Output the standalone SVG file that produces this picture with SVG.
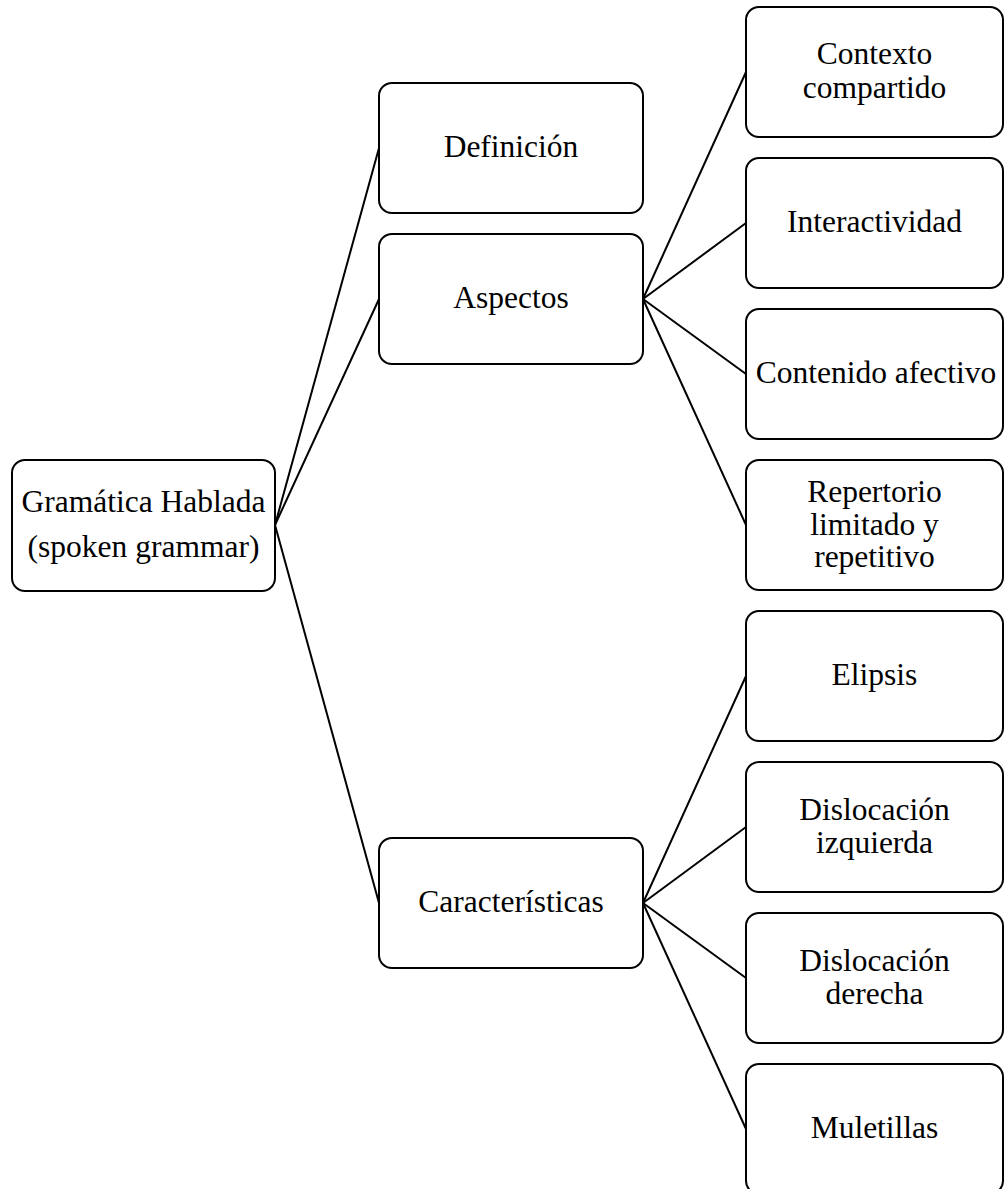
<svg xmlns="http://www.w3.org/2000/svg" width="1004" height="1189" viewBox="0 0 1004 1189">
  <style>
    .box { fill: #ffffff; stroke: #000000; stroke-width: 2; }
    .lbl { font-family: "Liberation Serif", "Times New Roman", serif; font-size: 31.5px; fill: #000000; text-anchor: middle; }
    .edge { stroke: #000000; stroke-width: 2; fill: none; }
  </style>
  <rect width="1004" height="1189" fill="#ffffff"/>

  <!-- tree connectors -->
  <g id="connectors">
    <line class="edge" x1="275" y1="525" x2="379" y2="148"/>
    <line class="edge" x1="275" y1="525" x2="379" y2="299"/>
    <line class="edge" x1="275" y1="525" x2="379" y2="903"/>
    <line class="edge" x1="643" y1="299" x2="746" y2="72"/>
    <line class="edge" x1="643" y1="299" x2="746" y2="223"/>
    <line class="edge" x1="643" y1="299" x2="746" y2="374"/>
    <line class="edge" x1="643" y1="299" x2="746" y2="525"/>
    <line class="edge" x1="643" y1="903" x2="746" y2="676"/>
    <line class="edge" x1="643" y1="903" x2="746" y2="827"/>
    <line class="edge" x1="643" y1="903" x2="746" y2="978"/>
    <line class="edge" x1="643" y1="903" x2="746" y2="1129"/>
  </g>

  <!-- root -->
  <g id="root">
    <rect class="box" x="12" y="460" width="263" height="131" rx="13"/>
    <text class="lbl" x="143.5" y="512">Gramática Hablada</text>
    <text class="lbl" x="143.5" y="557">(spoken grammar)</text>
  </g>

  <!-- middle column -->
  <g id="definicion">
    <rect class="box" x="379" y="83" width="264" height="130" rx="13"/>
    <text class="lbl" x="511" y="157">Definición</text>
  </g>
  <g id="aspectos">
    <rect class="box" x="379" y="234" width="264" height="130" rx="13"/>
    <text class="lbl" x="511" y="308">Aspectos</text>
  </g>
  <g id="caracteristicas">
    <rect class="box" x="379" y="838" width="264" height="130" rx="13"/>
    <text class="lbl" x="511" y="912">Características</text>
  </g>

  <!-- right column: aspects -->
  <g id="contexto">
    <rect class="box" x="746" y="7" width="257" height="130" rx="13"/>
    <text class="lbl" x="874.5" y="64">Contexto</text>
    <text class="lbl" x="874.5" y="98">compartido</text>
  </g>
  <g id="interactividad">
    <rect class="box" x="746" y="158" width="257" height="130" rx="13"/>
    <text class="lbl" x="874.5" y="232">Interactividad</text>
  </g>
  <g id="contenido">
    <rect class="box" x="746" y="309" width="257" height="130" rx="13"/>
    <text class="lbl" x="876" y="383">Contenido afectivo</text>
  </g>
  <g id="repertorio">
    <rect class="box" x="746" y="460" width="257" height="130" rx="13"/>
    <text class="lbl" x="874.5" y="502">Repertorio</text>
    <text class="lbl" x="874.5" y="535">limitado y</text>
    <text class="lbl" x="874.5" y="567">repetitivo</text>
  </g>

  <!-- right column: characteristics -->
  <g id="elipsis">
    <rect class="box" x="746" y="611" width="257" height="130" rx="13"/>
    <text class="lbl" x="874.5" y="685">Elipsis</text>
  </g>
  <g id="dislocacion-izquierda">
    <rect class="box" x="746" y="762" width="257" height="130" rx="13"/>
    <text class="lbl" x="874.5" y="820">Dislocación</text>
    <text class="lbl" x="874.5" y="853">izquierda</text>
  </g>
  <g id="dislocacion-derecha">
    <rect class="box" x="746" y="913" width="257" height="130" rx="13"/>
    <text class="lbl" x="874.5" y="971">Dislocación</text>
    <text class="lbl" x="874.5" y="1004">derecha</text>
  </g>
  <g id="muletillas">
    <rect class="box" x="746" y="1064" width="257" height="130" rx="13"/>
    <text class="lbl" x="874.5" y="1138">Muletillas</text>
  </g>
</svg>
